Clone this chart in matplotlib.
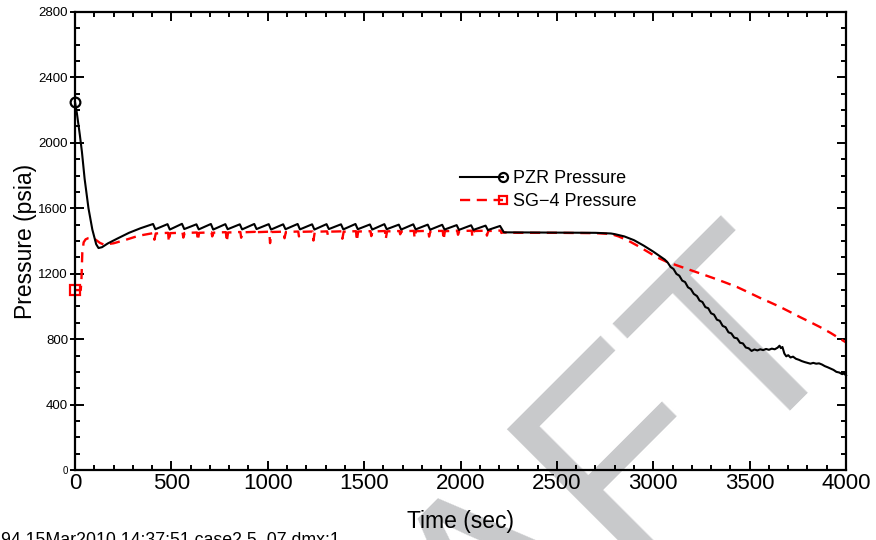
import matplotlib
matplotlib.use("Agg")
import matplotlib.pyplot as plt
from matplotlib.lines import Line2D
from matplotlib.legend_handler import HandlerLine2D
from matplotlib.ticker import MultipleLocator

plt.rcParams["font.family"] = ["Liberation Sans", "DejaVu Sans"]

# pressurizer pressure (psia) against time (s)
pzr_time = [
    0, 10, 25, 36, 50, 70, 90, 110, 122, 140, 170, 220, 280, 340, 405,
    417, 480, 492, 555, 567, 630, 642, 705, 717, 780, 792, 855, 867, 930, 942,
    1005, 1017, 1080, 1092, 1155, 1167, 1230, 1242, 1305, 1317, 1380, 1392,
    1455, 1467, 1530, 1542, 1605, 1617, 1680, 1692, 1755, 1767, 1830, 1842,
    1905, 1917, 1980, 1992, 2055, 2067, 2130, 2142, 2205, 2225,
    2400, 2600, 2700, 2780, 2800, 2850, 2900, 2950, 3000, 3040, 3060,
    3075, 3090, 3105, 3120, 3135, 3150, 3165, 3180, 3195, 3210,
    3227, 3240, 3255, 3270, 3285, 3300, 3315, 3330, 3345, 3360,
    3375, 3390, 3405, 3420, 3435, 3450, 3465, 3480, 3495, 3510,
    3525, 3540, 3555, 3570, 3585, 3600, 3615, 3630, 3645, 3655,
    3662, 3670, 3680, 3690, 3700, 3712, 3725, 3740, 3755, 3770,
    3785, 3800, 3815, 3830, 3845, 3860, 3875, 3890, 3905, 3920,
    3935, 3950, 3965, 3980, 3990, 4000,
]
pzr_psia = [
    2250, 2180, 2050, 1945, 1780, 1600, 1470, 1380, 1357, 1362, 1385, 1415, 1450, 1478, 1504,
    1472, 1503, 1470, 1505, 1473, 1502, 1471, 1504, 1470, 1503, 1472, 1502, 1471, 1504, 1473,
    1503, 1470, 1502, 1472, 1504, 1471, 1502, 1470, 1503, 1473, 1502, 1471,
    1504, 1472, 1501, 1470, 1503, 1472, 1500, 1470, 1502, 1471, 1500, 1469,
    1499, 1470, 1497, 1468, 1496, 1468, 1494, 1467, 1492, 1453,
    1452, 1451, 1450, 1446, 1442, 1428, 1405, 1372, 1335, 1302, 1286,
    1268, 1241, 1229, 1199, 1188, 1158, 1149, 1117, 1106, 1077,
    1063, 1036, 1027, 996, 989, 958, 950, 919, 912, 881,
    873, 842, 835, 809, 805, 778, 774, 749, 744, 728,
    737, 731, 738, 733, 740, 735, 742, 738, 748, 760,
    745, 752, 712, 695, 702, 688, 693, 680, 674, 666,
    660, 655, 650, 655, 650, 652, 645, 635, 628, 620,
    612, 600, 596, 586, 590, 578,
]

# steam generator 4 pressure (psia) against time (s)
sg_time = [
    0, 30, 34, 38, 45, 55, 70, 85, 100, 130, 150, 200, 260, 330, 405,
    408, 412, 419, 483, 487, 494, 558, 562, 569, 633, 637, 644,
    708, 712, 719, 783, 787, 794, 858, 862, 869, 933, 937, 944,
    1008, 1012, 1019, 1083, 1087, 1094, 1158, 1162, 1169, 1233, 1237, 1244,
    1308, 1312, 1319, 1383, 1387, 1394, 1458, 1462, 1469, 1533, 1537, 1544,
    1608, 1612, 1619, 1683, 1687, 1694, 1758, 1762, 1769, 1833, 1837, 1844,
    1908, 1912, 1919, 1983, 1987, 1994, 2058, 2062, 2069, 2133, 2137, 2144,
    2208, 2212, 2219,
    2300, 2500, 2700, 2780, 2820, 2870, 2920, 2970, 3020, 3071,
    3130, 3191, 3250, 3310, 3370, 3434, 3494, 3554, 3606, 3658,
    3710, 3761, 3813, 3865, 3920, 3979, 4000,
]
sg_psia = [
    1100, 1100, 1180, 1330, 1392, 1410, 1418, 1421, 1414, 1388, 1378, 1386, 1406, 1432, 1448,
    1448, 1408, 1446, 1450, 1395, 1448, 1451, 1421, 1449, 1452, 1402, 1450,
    1453, 1428, 1451, 1454, 1394, 1452, 1455, 1420, 1453, 1456, 1436, 1454,
    1457, 1387, 1455, 1457, 1417, 1455, 1458, 1428, 1456, 1458, 1403, 1456,
    1459, 1434, 1457, 1459, 1414, 1457, 1460, 1400, 1458, 1460, 1430, 1458,
    1461, 1411, 1459, 1461, 1441, 1459, 1462, 1417, 1460, 1462, 1427, 1460,
    1462, 1407, 1460, 1463, 1438, 1461, 1463, 1423, 1461, 1463, 1433, 1461,
    1464, 1449, 1452,
    1450, 1450, 1448, 1443, 1428, 1402, 1370, 1335, 1300, 1272,
    1248, 1223, 1199, 1174, 1148, 1119, 1086, 1052, 1025, 997,
    966, 935, 905, 874, 838, 795, 780,
]

x_ticks = [0, 500, 1000, 1500, 2000, 2500, 3000, 3500, 4000]
y_ticks = [0, 400, 800, 1200, 1600, 2000, 2400, 2800]
series_labels = ["PZR Pressure", "SG\u22124 Pressure"]
stamp = "94 15Mar2010 14:37:51 case2.5_07 dmx:1"


class EndMarker(HandlerLine2D):
    """Legend line with its symbol only at the right-hand end."""

    def create_artists(self, *args, **kwargs):
        artists = super().create_artists(*args, **kwargs)
        for a in artists:
            a.set_markevery([1])
        return artists


fig = plt.figure(figsize=(8.76, 5.4), dpi=100)
ax = fig.add_axes([0.0856, 0.1296, 0.8802, 0.8482])
ax.patch.set_alpha(0)

pzr_line, = ax.plot(pzr_time, pzr_psia, color="black", lw=1.5, marker="o",
                    markevery=[0], ms=7, mfc="none", mew=1.6, clip_on=False,
                    zorder=3)
sg_line, = ax.plot(sg_time, sg_psia, color="red", lw=1.7, dashes=[4.3, 2.8],
                   marker="s", markevery=[0], ms=6.5, mfc="none", mew=1.6,
                   clip_on=False, zorder=2)

ax.set_xlim(0, 4000)
ax.set_ylim(0, 2800)
ax.set_xticks(x_ticks)
ax.set_yticks(y_ticks)
ax.xaxis.set_minor_locator(MultipleLocator(100))
ax.yaxis.set_minor_locator(MultipleLocator(100))
ax.tick_params(which="both", direction="in", top=True, right=True, width=1.4)
ax.tick_params(which="major", length=6.5)
ax.tick_params(which="minor", length=3.6)
ax.tick_params(axis="x", labelsize=16, pad=2)
ax.tick_params(axis="y", labelsize=9.5, pad=5)
ax.get_yticklabels()[0].set_fontsize(7)
for s in ax.spines.values():
    s.set_linewidth(1.6)

# short outward stubs on the left major ticks
stub = ax.secondary_yaxis("left")
stub.set_yticks(y_ticks)
stub.tick_params(direction="out", length=3.6, width=1.4, labelleft=False)
stub.spines["left"].set_visible(False)

ax.set_xlabel("Time (sec)", fontsize=16.5, labelpad=12)
ax.set_ylabel("Pressure (psia)", fontsize=16.5, labelpad=1)

legend_lines = [
    Line2D([], [], color="black", lw=1.5, marker="o", ms=6.5, mfc="none", mew=1.6),
    Line2D([], [], color="red", lw=1.7, dashes=[4.3, 2.8], marker="s", ms=6,
           mfc="none", mew=1.6),
]
ax.legend(legend_lines, series_labels, loc="upper left",
          bbox_to_anchor=(0.519, 0.685), bbox_transform=fig.transFigure,
          handler_map={Line2D: EndMarker(numpoints=2)},
          frameon=False, fontsize=13, numpoints=2, handlelength=3.0,
          handletextpad=0.25, borderpad=0, borderaxespad=0, labelspacing=0.32)

fig.text(0.973, 0.396, "DRAFT", fontsize=195, color="#c8c9cb", rotation=45,
         rotation_mode="anchor", ha="right", va="baseline", zorder=-1)
fig.text(0.001, -0.009, stamp, fontsize=12.8, ha="left", va="baseline")

fig.savefig("out.png", dpi=100)
